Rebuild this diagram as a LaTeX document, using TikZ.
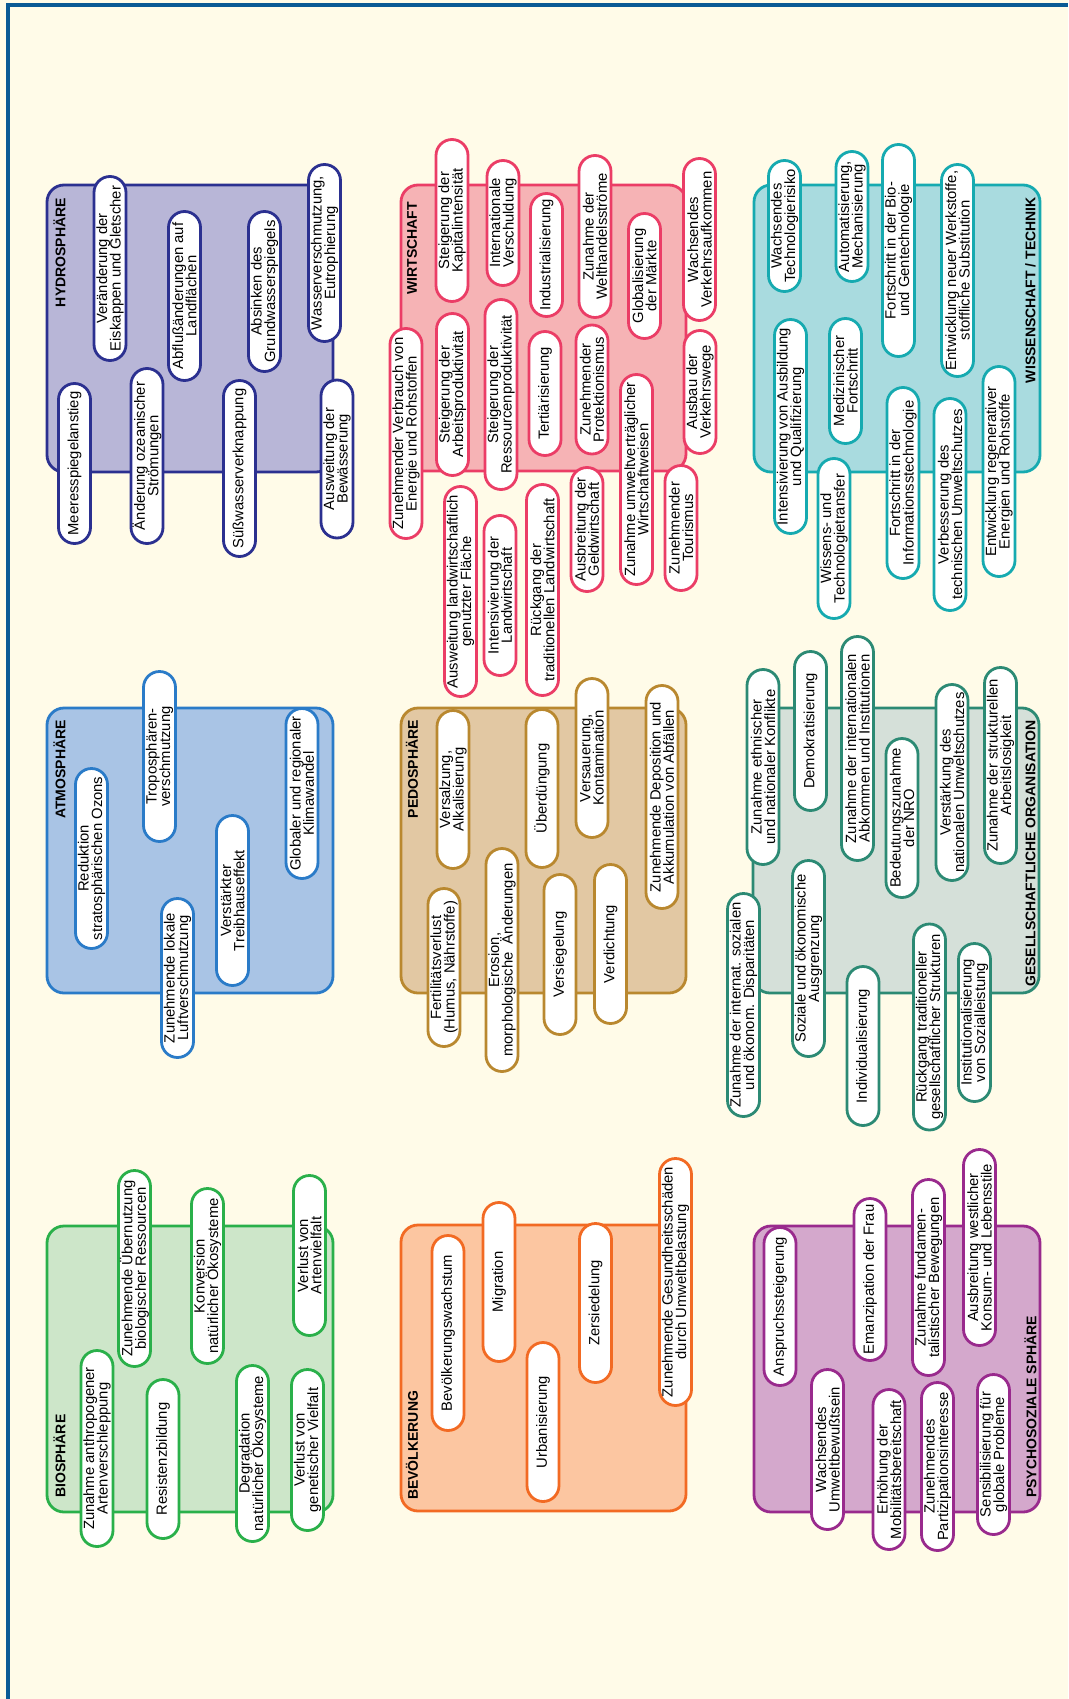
\documentclass[tikz,border=0pt]{standalone}
\usepackage{fontspec}
\setmainfont{Liberation Sans}
\usetikzlibrary{positioning}
\definecolor{bgcol}{HTML}{FFFBE8}
\definecolor{framecol}{HTML}{0A5A95}
\definecolor{hydL}{HTML}{B8B6D7}
\definecolor{hydD}{HTML}{2B3090}
\definecolor{atmL}{HTML}{A9C4E5}
\definecolor{atmD}{HTML}{2A7BC8}
\definecolor{bioL}{HTML}{CDE6C9}
\definecolor{bioD}{HTML}{2AB04A}
\definecolor{wirL}{HTML}{F6B3B5}
\definecolor{wirD}{HTML}{EB3D66}
\definecolor{pedL}{HTML}{E2C8A3}
\definecolor{pedD}{HTML}{B9882F}
\definecolor{bevL}{HTML}{FCC6A1}
\definecolor{bevD}{HTML}{F26A23}
\definecolor{wisL}{HTML}{A9DBDF}
\definecolor{wisD}{HTML}{16AAB0}
\definecolor{gesL}{HTML}{D5E0D9}
\definecolor{gesD}{HTML}{2C8A74}
\definecolor{psyL}{HTML}{D4A8CC}
\definecolor{psyD}{HTML}{992A8D}
\newcommand{\pillfont}{\fontsize{14.8}{13.4}\selectfont\lineskiplimit=-20pt\relax}
\newcommand{\headfont}{\fontsize{14}{14}\selectfont\bfseries}

\begin{document}
\begin{tikzpicture}[x=1pt, y=-1pt,
		sphere/.style={draw=#1D, fill=#1L, line width=2.8pt, rounded corners=17pt},
		pill/.style={draw=#1D, fill=white, line width=2.8pt, rounded corners=16pt, minimum height=32pt, inner sep=0pt, align=center, rotate=90, font=\pillfont},
		head/.style={inner sep=0pt, rotate=90, font=\headfont}]
		% page and frame
		\fill[bgcol] (0,0) rectangle (1068,1699);
		\useasboundingbox (0,0) rectangle (1068,1699);
		\draw[framecol, line width=3.6pt] (8,1699) -- (8,5) -- (1068,5);
		% hydrosphaere
		\draw[sphere=hyd] (47,185) rectangle (333,472);
		\node[head, anchor=east] (Hhead) at (59.5,198) {HYDROSPHÄRE};
		\node[pill=hyd, minimum width=160] (H1) at (74.5,463.5) {Meeresspiegelanstieg};
		\node[pill=hyd, minimum width=184] (H2) at (110,268.5) {Veränderung der\\Eiskappen und Gletscher};
		\node[pill=hyd, minimum width=175] (H3) at (147,456) {Änderung ozeanischer\\Strömungen};
		\node[pill=hyd, minimum width=169] (H4) at (184.5,296) {Abflußänderungen auf\\Landflächen};
		\node[pill=hyd, minimum width=176] (H5) at (239.5,468.5) {Süßwasserverknappung};
		\node[pill=hyd, minimum width=160] (H6) at (264.5,291.5) {Absinken des\\Grundwasserspiegels};
		\node[pill=hyd, minimum width=177] (H7) at (324.5,253) {Wasserverschmutzung,\\Eutrophierung};
		\node[pill=hyd, minimum width=158] (H8) at (337,459) {Ausweitung der\\Bewässerung};
		% atmosphaere
		\draw[sphere=atm] (47,708) rectangle (333,993);
		\node[head, anchor=east] (Ahead) at (59.5,720) {ATMOSPHÄRE};
		\node[pill=atm, minimum width=180] (A1) at (91.5,858.5) {Reduktion\\stratosphärischen Ozons};
		\node[pill=atm, minimum width=170] (A2) at (159.5,756.5) {Troposphären-\\verschmutzung};
		\node[pill=atm, minimum width=159] (A3) at (177.5,978) {Zunehmende lokale\\Luftverschmutzung};
		\node[pill=atm, minimum width=170] (A4) at (232.5,900.5) {Verstärkter\\Treibhauseffekt};
		\node[pill=atm, minimum width=170] (A5) at (302,793.5) {Globaler und regionaler\\Klimawandel};
		% biosphaere
		\draw[sphere=bio] (47,1226) rectangle (333,1512);
		\node[head, anchor=west] (Bhead) at (59.5,1498) {BIOSPHÄRE};
		\node[pill=bio, minimum width=196] (B1) at (97,1448.5) {Zunahme anthropogener\\Artenverschleppung};
		\node[pill=bio, minimum width=196] (B2) at (134.5,1268.5) {Zunehmende Übernutzung\\biologischer Ressourcen};
		\node[pill=bio, minimum width=159] (B3) at (163,1459) {Resistenzbildung};
		\node[pill=bio, minimum width=175] (B4) at (207.5,1276) {Konversion\\natürlicher Ökosysteme};
		\node[pill=bio, minimum width=176] (B5) at (252.5,1453.5) {Degradation\\natürlicher Ökosysteme};
		\node[pill=bio, minimum width=160] (B6) at (309.5,1255.5) {Verlust von\\Artenvielfalt};
		\node[pill=bio, minimum width=161] (B7) at (307.5,1450) {Verlust von\\genetischer Vielfalt};
		% wirtschaft
		\draw[sphere=wir] (401,185) rectangle (686,471);
		\node[head, anchor=east] (Whead) at (412,202) {WIRTSCHAFT};
		\node[pill=wir, minimum width=162] (W1) at (452,220.5) {Steigerung der\\Kapitalintensität};
		\node[pill=wir, minimum width=125] (W2) at (503,223) {Internationale\\Verschuldung};
		\node[pill=wir, minimum width=123] (W3) at (546.5,255) {Industrialisierung};
		\node[pill=wir, minimum width=162] (W4) at (595,236.5) {Zunahme der\\Welthandelsströme};
		\node[pill=wir, minimum width=125] (W5) at (644.5,276) {Globalisierung\\der Märkte};
		\node[pill=wir, minimum width=162] (W6) at (699.5,239.5) {Wachsendes\\Verkehrsaufkommen};
		\node[pill=wir, minimum width=210] (W7) at (406,433.5) {Zunehmender Verbrauch von\\Energie und Rohstoffen};
		\node[pill=wir, minimum width=162] (W8) at (452.5,394.5) {Steigerung der\\Arbeitsproduktivität};
		\node[pill=wir, minimum width=190] (W9) at (501,394.5) {Steigerung der\\Ressourcenproduktivität};
		\node[pill=wir, minimum width=124] (W10) at (545,393.5) {Tertiärisierung};
		\node[pill=wir, minimum width=129] (W11) at (592,389.5) {Zunehmender\\Protektionismus};
		\node[pill=wir, minimum width=210] (W12) at (636.5,479.5) {Zunahme umweltverträglicher\\Wirtschaftweisen};
		\node[pill=wir, minimum width=123] (W13) at (700,392) {Ausbau der\\Verkehrswege};
		\node[pill=wir, minimum width=210] (W14) at (460.5,591.5) {Ausweitung landwirtschaftlich\\genutzter Fläche};
		\node[pill=wir, minimum width=160] (W15) at (500,595.5) {Intensivierung der\\Landwirtschaft};
		\node[pill=wir, minimum width=211] (W16) at (542.5,590) {Rückgang der\\traditionellen Landwirtschaft};
		\node[pill=wir, minimum width=124] (W17) at (587,529.5) {Ausbreitung der\\Geldwirtschaft};
		\node[pill=wir, minimum width=125] (W18) at (681,528) {Zunehmender\\Tourismus};
		% pedosphaere
		\draw[sphere=ped] (401,708) rectangle (686,993);
		\node[head, anchor=east] (Phead) at (412,720) {PEDOSPHÄRE};
		\node[pill=ped, minimum width=158] (P1) at (453,789.5) {Versalzung,\\Alkalisierung};
		\node[pill=ped, minimum width=158] (P2) at (542,788.5) {Überdüngung};
		\node[pill=ped, minimum width=159] (P3) at (592,758) {Versauerung,\\Kontamination};
		\node[pill=ped, minimum width=223] (P4) at (662,797) {Zunehmende Deposition und\\Akkumulation von Abfällen};
		\node[pill=ped, minimum width=158] (P5) at (444,967.5) {Fertilitätsverlust\\(Humus, Nährstoffe)};
		\node[pill=ped, minimum width=223] (P6) at (502,960) {Erosion,\\morphologische\ \ Änderungen};
		\node[pill=ped, minimum width=160] (P7) at (560,954.5) {Versiegelung};
		\node[pill=ped, minimum width=159] (P8) at (610.5,944) {Verdichtung};
		% bevoelkerung
		\draw[sphere=bev] (401,1225) rectangle (686,1511);
		\node[head, anchor=west] (Vhead) at (412,1500) {BEVÖLKERUNG};
		\node[pill=bev, minimum width=195] (V1) at (448,1333) {Bevölkerungswachstum};
		\node[pill=bev, minimum width=159] (V2) at (499,1282) {Migration};
		\node[pill=bev, minimum width=159] (V3) at (543,1422) {Urbanisierung};
		\node[pill=bev, minimum width=159] (V4) at (595.5,1303) {Zersiedelung};
		\node[pill=bev, minimum width=247] (V5) at (675.5,1282) {Zunehmende Gesundheitsschäden\\durch Umweltbelastung};
		% wissenschaft / technik
		\draw[sphere=wis] (754,185) rectangle (1040,472);
		\node[head, anchor=east] (Thead) at (1030.5,197) {WISSENSCHAFT / TECHNIK};
		\node[pill=wis, minimum width=131] (T1) at (784.5,226) {Wachsendes\\Technologierisiko};
		\node[pill=wis, minimum width=130] (T2) at (852,216.5) {Automatisierung,\\Mechanisierung};
		\node[pill=wis, minimum width=212] (T3) at (898.5,250.5) {Fortschritt in der Bio-\\und Gentechnologie};
		\node[pill=wis, minimum width=212] (T4) at (957.5,270.5) {Entwicklung neuer Werkstoffe,\\stoffliche Substitution};
		\node[pill=wis, minimum width=214] (T5) at (790.5,426.5) {Intensivierung von Ausbildung\\und Qualifizierung};
		\node[pill=wis, minimum width=125] (T6) at (845.5,381) {Medizinischer\\Fortschritt};
		\node[pill=wis, minimum width=160] (T7) at (834,538.5) {Wissens- und\\Technologietransfer};
		\node[pill=wis, minimum width=191] (T8) at (903,483) {Fortschritt in der\\Informationsstechnologie};
		\node[pill=wis, minimum width=212] (T9) at (950,504.5) {Verbesserung des\\technischen Umweltschutzes};
		\node[pill=wis, minimum width=210] (T10) at (999,471.5) {Entwicklung regenerativer\\Energien und Rohstoffe};
		% gesellschaftliche organisation
		\draw[sphere=ges] (753,708) rectangle (1039,993);
		\node[head, anchor=east] (Ghead) at (1030.5,720) {GESELLSCHAFTLICHE ORGANISATION};
		\node[pill=ges, minimum width=195] (G1) at (763,767) {Zunahme ethnischer\\und nationaler Konflikte};
		\node[pill=ges, minimum width=159] (G2) at (810.5,731) {Demokratisierung};
		\node[pill=ges, minimum width=224] (G3) at (857.5,748.5) {Zunahme der internationalen\\Abkommen und Institutionen};
		\node[pill=ges, minimum width=159] (G4) at (902,818) {Bedeutungszunahme\\der NRO};
		\node[pill=ges, minimum width=196] (G5) at (952,782.5) {Verstärkung des\\nationalen Umweltschutzes};
		\node[pill=ges, minimum width=196] (G6) at (1000.5,765.5) {Zunahme der strukturellen\\Arbeitslosigkeit};
		\node[pill=ges, minimum width=223] (G7) at (743.5,1005) {Zunahme der internat. sozialen\\und ökonom. Disparitäten};
		\node[pill=ges, minimum width=196] (G8) at (808.5,958.5) {Soziale und ökonomische\\Ausgrenzung};
		\node[pill=ges, minimum width=159] (G9) at (863,1046) {Individualisierung};
		\node[pill=ges, minimum width=206] (G10) at (929.5,1027) {Rückgang traditioneller\\gesellschaftlicher Strukturen};
		\node[pill=ges, minimum width=158] (G11) at (974.5,1022.5) {Institutionalisierung\\von Sozialleistung};
		% psychosoziale sphaere
		\draw[sphere=psy] (754,1226) rectangle (1040,1512);
		\node[head, anchor=west] (Shead) at (1030.5,1498) {PSYCHOSOZIALE SPHÄRE};
		\node[pill=psy, minimum width=158] (S1) at (780,1306.5) {Anspruchssteigerung};
		\node[pill=psy, minimum width=162] (S2) at (870,1279.5) {Emanzipation der Frau};
		\node[pill=psy, minimum width=196] (S3) at (928.5,1277.5) {Zunahme fundamen-\\talistischer Bewegungen};
		\node[pill=psy, minimum width=196] (S4) at (979.5,1247.5) {Ausbreitung westlicher\\Konsum- und Lebensstile};
		\node[pill=psy, minimum width=160] (S5) at (827.5,1449.5) {Wachsendes\\Umweltbewußtsein};
		\node[pill=psy, minimum width=160] (S6) at (889,1469.5) {Erhöhung der\\Mobilitätsbereitschaft};
		\node[pill=psy, minimum width=168] (S7) at (937.5,1466.5) {Zunehmendes\\Partizipationsinteresse};
		\node[pill=psy, minimum width=160] (S8) at (993.5,1454.5) {Sensibilisierung für\\globale Probleme};
\end{tikzpicture}
\end{document}
